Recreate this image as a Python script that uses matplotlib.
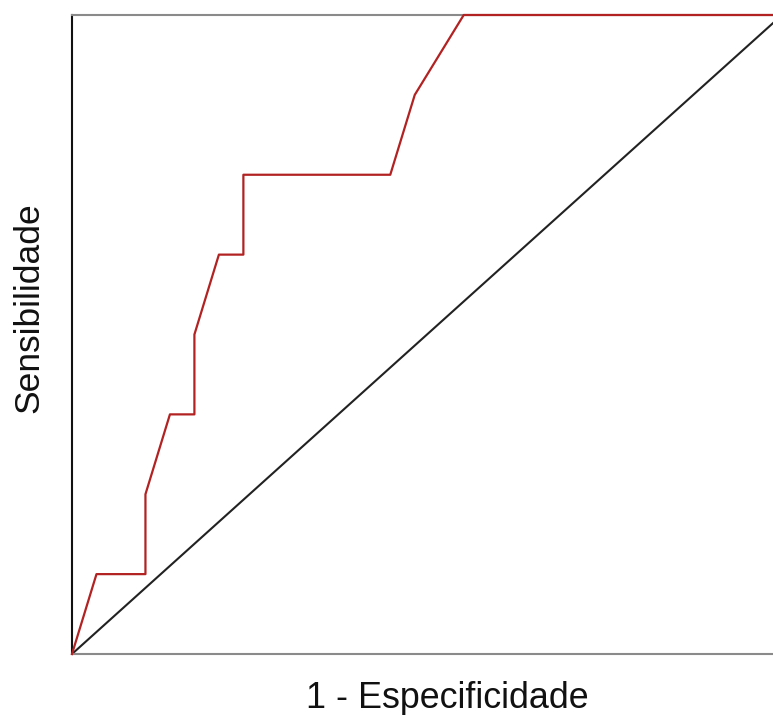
import matplotlib.pyplot as plt

# ROC curve: 29 negatives, 8 positives (counts read from the step positions)
fp_counts = [0, 1, 3, 3, 4, 5, 5, 6, 7, 7, 13, 14, 16, 29]
tp_counts = [0, 1, 1, 2, 3, 3, 4, 5, 5, 6, 6, 7, 8, 8]
n_neg = 29
n_pos = 8

fpr = [c / n_neg for c in fp_counts]
tpr = [c / n_pos for c in tp_counts]

plt.rcParams['font.family'] = ['Liberation Sans', 'DejaVu Sans']

fig = plt.figure(figsize=(7.73, 7.15), dpi=100)
ax = fig.add_axes([72 / 773, 61 / 715, 710 / 773, 639 / 715])

ax.plot([0, 1], [0, 1], color='#222222', lw=1.5)
ax.plot(fpr, tpr, color='#b22222', lw=1.6, zorder=3, clip_on=False)

ax.set_xlim(0, 1)
ax.set_ylim(0, 1)
ax.set_xticks([])
ax.set_yticks([])
ax.spines['left'].set_color('#111111')
ax.spines['bottom'].set_color('#8a8a8a')
ax.spines['top'].set_color('#8a8a8a')
ax.spines['right'].set_color('#8a8a8a')
for s in ax.spines.values():
    s.set_linewidth(1.5)

fig.text(447 / 773, 1 - 708 / 715, '1 - Especificidade', ha='center', va='baseline',
         fontsize=25.8, color='#111111')
fig.text(29 / 773, 1 - 308 / 715, 'Sensibilidade', ha='center', va='center',
         rotation=90, fontsize=25.5, color='#111111')

fig.savefig('out.png', dpi=100)
